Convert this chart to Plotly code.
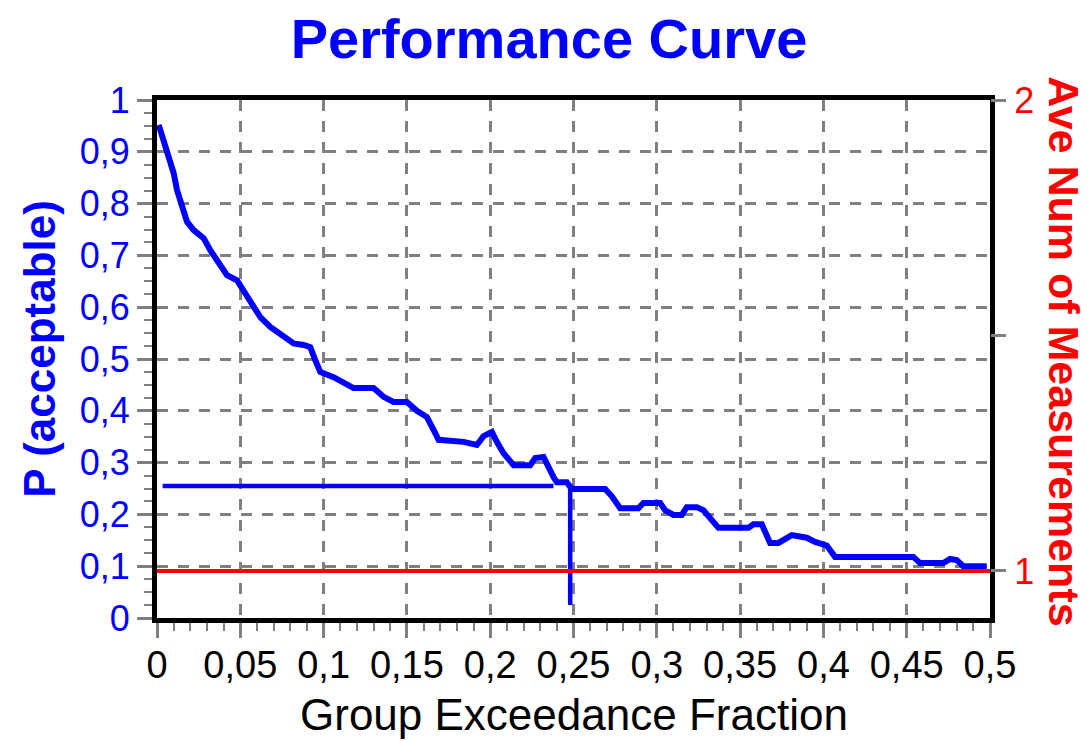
import plotly.graph_objects as go

# performance curve
frac = [0.001, 0.004, 0.007, 0.010, 0.012, 0.015, 0.018, 0.022, 0.028, 0.032, 0.037, 0.042,
        0.048, 0.052, 0.056, 0.062, 0.068, 0.076, 0.082, 0.088, 0.092, 0.095, 0.098, 0.106,
        0.112, 0.118, 0.130, 0.136, 0.142, 0.150, 0.156, 0.162, 0.166, 0.169, 0.184, 0.192,
        0.196, 0.201, 0.204, 0.208, 0.212, 0.214, 0.224, 0.227, 0.232, 0.235, 0.238, 0.240,
        0.246, 0.249, 0.269, 0.273, 0.278, 0.289, 0.292, 0.302, 0.305, 0.310, 0.315, 0.318,
        0.324, 0.328, 0.333, 0.337, 0.355, 0.358, 0.363, 0.368, 0.373, 0.378, 0.381, 0.390,
        0.395, 0.402, 0.407, 0.454, 0.458, 0.472, 0.476, 0.480, 0.484, 0.498]
p_accept = [0.952, 0.923, 0.890, 0.859, 0.826, 0.793, 0.765, 0.749, 0.733, 0.710, 0.685, 0.662,
            0.652, 0.633, 0.614, 0.581, 0.562, 0.542, 0.530, 0.527, 0.523, 0.498, 0.475, 0.465,
            0.456, 0.444, 0.444, 0.427, 0.417, 0.417, 0.400, 0.388, 0.363, 0.344, 0.340, 0.334,
            0.351, 0.359, 0.340, 0.318, 0.303, 0.295, 0.295, 0.309, 0.311, 0.290, 0.272, 0.262,
            0.262, 0.249, 0.249, 0.235, 0.212, 0.212, 0.222, 0.222, 0.208, 0.199, 0.199, 0.214,
            0.214, 0.208, 0.190, 0.174, 0.174, 0.181, 0.181, 0.145, 0.145, 0.153, 0.160, 0.155,
            0.147, 0.140, 0.118, 0.118, 0.106, 0.106, 0.114, 0.112, 0.100, 0.100]

# marker lines at the 0.25 point
hline_x = [0.0034, 0.238]
hline_y = [0.255, 0.255]
vline_x = [0.248, 0.248]
vline_y = [0.257, 0.025]

# average number of measurements (right axis)
ave_x = [0, 0.5]
ave_num = [1, 1]

x_ticks = [0, 0.05, 0.1, 0.15, 0.2, 0.25, 0.3, 0.35, 0.4, 0.45, 0.5]
x_labels = ['0', '0,05', '0,1', '0,15', '0,2', '0,25', '0,3', '0,35', '0,4', '0,45', '0,5']
y_ticks = [0, 0.1, 0.2, 0.3, 0.4, 0.5, 0.6, 0.7, 0.8, 0.9, 1]
y_labels = ['0', '0,1', '0,2', '0,3', '0,4', '0,5', '0,6', '0,7', '0,8', '0,9', '1']
y2_ticks = [1, 1.5, 2]
y2_labels = ['1', '', '2']

GRID = '#808080'
FONT = 'Liberation Sans'

fig = go.Figure()
fig.add_trace(go.Scatter(x=frac, y=p_accept, mode='lines',
                         line=dict(color='#0000FF', width=6), showlegend=False))
fig.add_trace(go.Scatter(x=hline_x, y=hline_y, mode='lines',
                         line=dict(color='#0000FF', width=4.5), showlegend=False))
fig.add_trace(go.Scatter(x=vline_x, y=vline_y, mode='lines',
                         line=dict(color='#0000FF', width=4.5), showlegend=False))
fig.add_trace(go.Scatter(x=ave_x, y=ave_num, mode='lines', yaxis='y2',
                         line=dict(color='#FF0000', width=4), showlegend=False))

# the page body has an 8px margin, so the figure is 8px smaller and shifted
fig.update_layout(
    width=1082, height=733,
    margin=dict(l=149, r=100, t=92, b=123),
    paper_bgcolor='white', plot_bgcolor='white',
    font=dict(family=FONT),
    title=dict(text='Performance Curve', x=0.5, xanchor='center',
               y=1 - 30 / 733, yanchor='middle',
               font=dict(family=FONT, size=56, color='#0000FF', weight='bold')),
    xaxis=dict(range=[0, 0.5], tickmode='array', tickvals=x_ticks, ticktext=x_labels,
               showline=True, linecolor='black', linewidth=5, mirror=True,
               ticks='outside', ticklen=15, tickwidth=3, tickcolor=GRID,
               ticklabelstandoff=-6,
               tickfont=dict(family=FONT, size=38, color='black'),
               showgrid=True, gridcolor=GRID, gridwidth=3, griddash='11px,10px',
               zeroline=False,
               minor=dict(tickmode='linear', tick0=0, dtick=0.01, ticks='outside',
                          ticklen=8, tickwidth=2, tickcolor=GRID, showgrid=False)),
    yaxis=dict(range=[0, 1], tickmode='array', tickvals=y_ticks, ticktext=y_labels,
               showline=True, linecolor='black', linewidth=5, mirror=True,
               ticks='outside', ticklen=15, tickwidth=3, tickcolor=GRID,
               ticklabelstandoff=0,
               tickfont=dict(family=FONT, size=36, color='#0000FF'),
               showgrid=True, gridcolor=GRID, gridwidth=3, griddash='11px,10px',
               zeroline=False,
               minor=dict(tickmode='linear', tick0=0, dtick=0.025, ticks='outside',
                          ticklen=8, tickwidth=2, tickcolor=GRID, showgrid=False)),
    yaxis2=dict(range=[0.9, 2], overlaying='y', side='right', tickmode='array',
                tickvals=y2_ticks, ticktext=y2_labels,
                showline=False, ticks='outside', ticklen=15, tickwidth=3, tickcolor=GRID,
                ticklabelstandoff=1,
                tickfont=dict(family=FONT, size=36, color='#FF0000'),
                showgrid=False, zeroline=False),
)

fig.add_annotation(text='Group Exceedance Fraction', xref='paper', yref='paper',
                   x=0.5, y=-96 / 518, xanchor='center', yanchor='middle', showarrow=False,
                   font=dict(family=FONT, size=44, color='black'))
fig.add_annotation(text='P (acceptable)', xref='paper', yref='paper',
                   x=-117 / 833, y=0.52, xanchor='center', yanchor='middle', showarrow=False,
                   textangle=-90, font=dict(family=FONT, size=44, color='#0000FF', weight='bold'))
fig.add_annotation(text='Ave Num of Measurements', xref='paper', yref='paper',
                   x=1 + 74 / 833, y=0.515, xanchor='center', yanchor='middle', showarrow=False,
                   textangle=90, font=dict(family=FONT, size=43, color='#FF0000', weight='bold'))

fig.write_html('out.html')
